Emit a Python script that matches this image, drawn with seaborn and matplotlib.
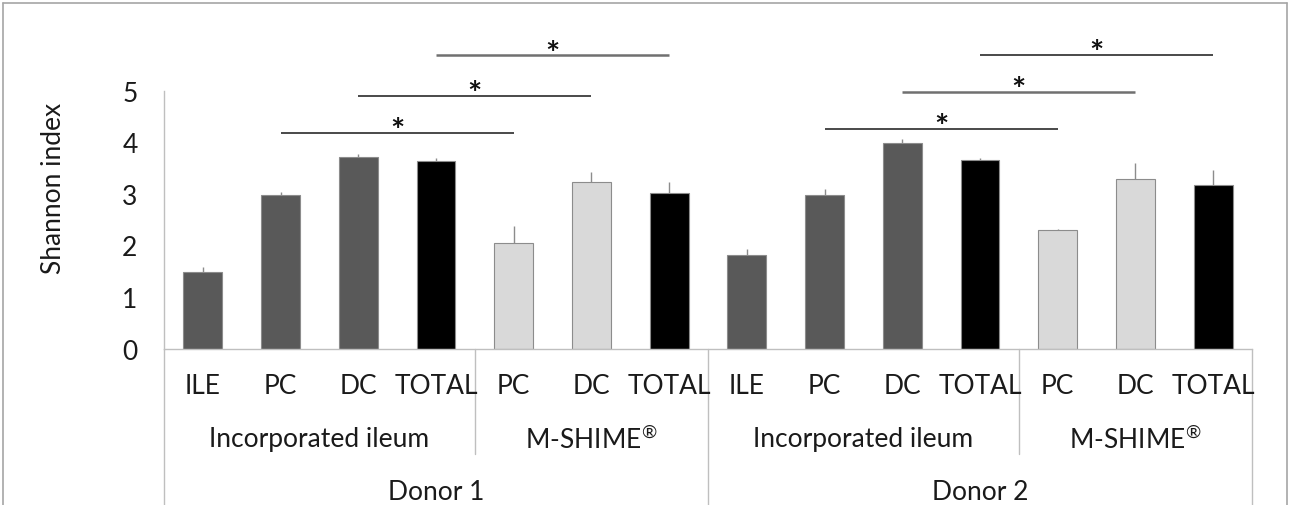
import matplotlib
matplotlib.use("Agg")
import matplotlib.pyplot as plt
import matplotlib.transforms as mtransforms
from matplotlib.lines import Line2D
import numpy as np
import pandas as pd
import seaborn as sns

# ---- data -------------------------------------------------------------
sections = ["ILE", "PC", "DC", "TOTAL", "PC", "DC", "TOTAL"]
systems = ["Incorporated ileum", r"M-SHIME$^{\mathregular{®}}$"]
donors = ["Donor 1", "Donor 2"]

# mean Shannon index and standard deviation per section
donor1_mean = [1.48, 2.98, 3.72, 3.64, 2.04, 3.24, 3.02]
donor1_sd = [0.11, 0.06, 0.05, 0.05, 0.33, 0.18, 0.21]
donor2_mean = [1.82, 2.99, 3.99, 3.66, 2.31, 3.30, 3.18]
donor2_sd = [0.11, 0.11, 0.07, 0.03, 0.02, 0.31, 0.29]

# bar fill group per section
section_kind = ["ileum", "ileum", "ileum", "total", "mshime", "mshime", "total"]

# significant comparisons: (bar a, bar b) within the 14-bar sequence
sig_pairs = [(1, 4), (2, 5), (3, 6), (8, 11), (9, 12), (10, 13)]
sig_levels = [4.18, 4.90, 5.69, 4.26, 4.99, 5.70]
sig_colors = ["#3a3a3a", "#3a3a3a", "#707070", "#3a3a3a", "#707070", "#3a3a3a"]

palette = {"ileum": "#595959", "mshime": "#d9d9d9", "total": "#000000"}

# ---- frame ------------------------------------------------------------
means = donor1_mean + donor2_mean
sds = donor1_sd + donor2_sd
labels = sections * 2
kinds = section_kind * 2
slots = [f"{d}|{i}" for d in donors for i in range(len(sections))]
df = pd.DataFrame({"slot": slots, "shannon": means, "kind": kinds})

# ---- figure -----------------------------------------------------------
sns.set_theme(style="white")
plt.rcParams["font.family"] = ["Lato", "DejaVu Sans"]
plt.rcParams["mathtext.fontset"] = "custom"
plt.rcParams["mathtext.rm"] = "Lato"

W, H = 1290, 506
FS = 19
TXT = "#1a1a1a"
fig = plt.figure(figsize=(W / 100, H / 100), dpi=100)
x0, x1 = 164, 1252
y_top, y_base = 92, 349.5
ax = fig.add_axes([x0 / W, 1 - y_base / H, (x1 - x0) / W, (y_base - y_top) / H])

sns.barplot(data=df, x="slot", y="shannon", hue="kind", order=slots,
            palette=palette, dodge=False, width=0.5, errorbar=None,
            legend=False, edgecolor="#8c8c8c", linewidth=0.8, ax=ax)

xpos = np.arange(len(slots))
ax.errorbar(xpos, means, yerr=[np.zeros(len(sds)), sds], fmt="none",
            ecolor="#8c8c8c", elinewidth=1.0, capsize=0, zorder=3)

ax.set_xlim(-0.5, len(slots) - 0.5)
ax.set_ylim(0, 5)
ax.set_yticks(range(6))
ax.set_yticklabels([str(v) for v in range(6)], fontsize=FS, color=TXT)
ax.tick_params(axis="y", length=0, pad=19)
ax.set_xticks([])
ax.set_xlabel("")
ax.set_ylabel("")

axis_grey = "#bfbfbf"
for side in ["top", "right"]:
    ax.spines[side].set_visible(False)
for side in ["left", "bottom"]:
    ax.spines[side].set_color(axis_grey)
    ax.spines[side].set_linewidth(1.0)

# multi-level category axis
tr = mtransforms.blended_transform_factory(ax.transData, fig.transFigure)
f_base = 1 - y_base / H
for i, lab in enumerate(labels):
    ax.text(i, 1 - 387 / H, lab, transform=tr, ha="center", va="center",
            fontsize=FS, color=TXT)
n = len(sections)
for d, donor in enumerate(donors):
    off = d * n
    ax.text(off + 1.5, 1 - 440 / H, systems[0], transform=tr, ha="center",
            va="center", fontsize=FS, color=TXT)
    ax.text(off + 5.0, 1 - 440 / H, systems[1], transform=tr, ha="center",
            va="center", fontsize=FS, color=TXT)
    ax.text(off + 3.0, 1 - 493 / H, donor, transform=tr, ha="center",
            va="center", fontsize=FS, color=TXT)
    # separator between the two systems
    ax.plot([off + 3.5, off + 3.5], [f_base, 1 - 455 / H], transform=tr,
            color=axis_grey, lw=1.0, clip_on=False)
# separators between donors and at both ends
for xb in [-0.5, n - 0.5, 2 * n - 0.5]:
    ax.plot([xb, xb], [f_base, 0], transform=tr, color=axis_grey, lw=1.0,
            clip_on=False)

# significance bars
for (a, b), lvl, col in zip(sig_pairs, sig_levels, sig_colors):
    lw = 1.8 if col == "#707070" else 1.3
    ax.plot([a, b], [lvl, lvl], color=col, lw=lw, clip_on=False,
            solid_capstyle="butt")
    ax.text((a + b) / 2, lvl - 0.16, "*", ha="center", va="baseline",
            fontsize=24, fontweight="bold", color="#111111", clip_on=False)

fig.text(54 / W, 1 - 188 / H, "Shannon index", rotation=90, ha="center",
         va="center", fontsize=FS, color=TXT)

# chart frame
frame = "#a6a6a6"
for xs, ys in [([3 / W, 1287 / W], [1 - 4 / H, 1 - 4 / H]),
               ([3 / W, 3 / W], [1 - 4 / H, 0]),
               ([1287 / W, 1287 / W], [1 - 4 / H, 0])]:
    fig.add_artist(Line2D(xs, ys, transform=fig.transFigure, color=frame,
                          lw=1.2))

fig.savefig("out.png", dpi=100, facecolor="white")
